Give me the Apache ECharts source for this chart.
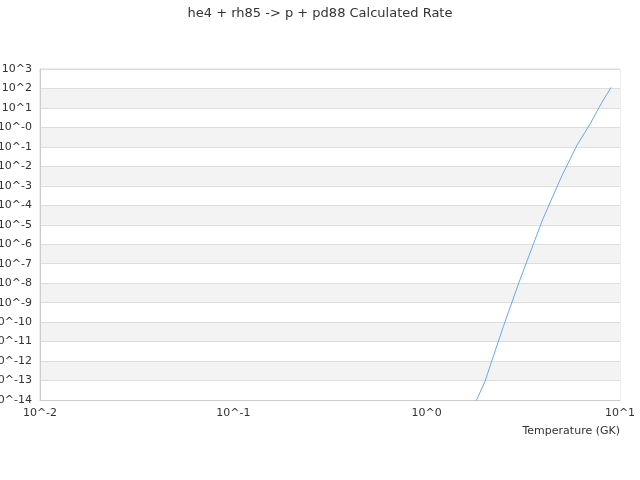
<!DOCTYPE html>
<html>
<head>
  <meta charset="utf-8">
  <title></title>
  <script src="https://cdn.jsdelivr.net/npm/echarts@6/dist/echarts.min.js"></script>
  <style>
    html, body {
      margin: 0;
      padding: 0;
      background: #fff;
    }

    #chart {
      width: 640px;
      height: 480px;
    }
  </style>
</head>
<body>
<div id="chart"></div>
<script>
  // temperature (GK) and calculated rate
  var temperature = [1.5, 2, 2.5, 3, 3.5, 4, 5, 6, 7, 8, 9];
  var rate = [1.6e-16, 8.7e-14, 6.5e-11, 1.07e-8, 6.3e-7, 2.1e-5, 3.2e-3, 1.26e-1, 1.48, 17, 115];

  var chartTitle = 'he4 + rh85 -> p + pd88 Calculated Rate';
  var xName = 'Temperature (GK)';

  var points = [];
  for (var i = 0; i < temperature.length; i++) {
    points.push([temperature[i], rate[i]]);
  }

  // exponent label like 10^-3
  function powLabel(v, zeroSign) {
    var e = Math.round(Math.log10(v));
    if (e === 0) return '10^' + zeroSign + '0';
    return '10^' + e;
  }

  var chart = echarts.init(document.getElementById('chart'));
  var option = {
    animation: false,
    textStyle: {
      fontFamily: 'DejaVu Sans'
    },
    title: {
      text: chartTitle,
      left: 'center',
      top: 2,
      textStyle: {
        fontSize: 13,
        fontWeight: 'normal',
        color: '#333'
      }
    },
    grid: {
      left: 40,
      right: 20,
      top: 69,
      bottom: 80,
      outerBoundsMode: 'none',
      containLabel: false,
      show: true,
      borderColor: '#ddd',
      borderWidth: 1
    },
    xAxis: {
      type: 'log',
      min: 0.01,
      max: 10,
      interval: 1,
      name: xName,
      nameLocation: 'end',
      nameGap: 0,
      nameTextStyle: {
        align: 'right',
        verticalAlign: 'top',
        padding: [26, 0, 0, 0],
        fontSize: 11,
        color: '#333'
      },
      axisLine: {lineStyle: {color: '#ccc'}},
      axisTick: {show: false},
      splitLine: {show: false},
      axisLabel: {
        fontSize: 11,
        color: '#333',
        margin: 8,
        formatter: function (v) {
          return powLabel(v, '');
        }
      }
    },
    yAxis: {
      type: 'log',
      min: 1e-14,
      max: 1e3,
      interval: 1,
      axisLine: {show: true, lineStyle: {color: '#ccc'}},
      axisTick: {show: false},
      splitLine: {show: true, lineStyle: {color: '#ddd'}},
      splitArea: {show: true, areaStyle: {color: ['#ffffff', '#f3f3f3']}},
      axisLabel: {
        fontSize: 11,
        color: '#333',
        margin: 8,
        formatter: function (v) {
          return powLabel(v, '-');
        }
      }
    },
    series: [
      {
        type: 'line',
        data: points,
        showSymbol: false,
        symbol: 'none',
        clip: true,
        lineStyle: {width: 1, color: '#6aa8f0'}
      }
    ]
  };
  chart.setOption(option);
</script>
</body>
</html>
